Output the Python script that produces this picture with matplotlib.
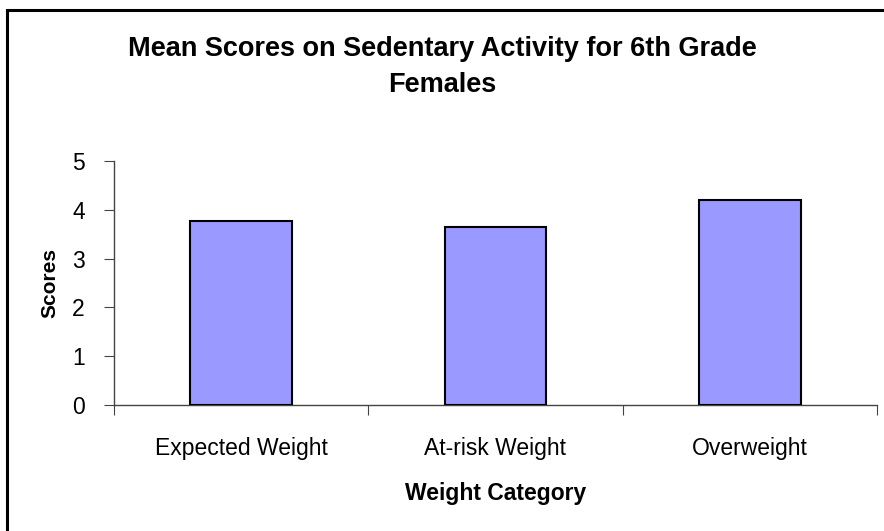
import matplotlib
matplotlib.use("Agg")
import matplotlib.pyplot as plt
from matplotlib.patches import Rectangle

# datos
categories = ["Expected Weight", "At-risk Weight", "Overweight"]
scores = [3.77, 3.65, 4.20]

plt.rcParams['font.family'] = ['Liberation Sans', 'DejaVu Sans']

fig = plt.figure(figsize=(8.84, 5.31), dpi=100)
ax = fig.add_axes([114 / 884, 1 - 405 / 531, 763 / 884, 244 / 531])

x = list(range(len(categories)))
ax.bar(x, scores, width=0.4, color='#9999FF', edgecolor='black', linewidth=1.5, zorder=3)

ax.set_xlim(-0.5, len(categories) - 0.5)
ax.set_ylim(0, 5)
ax.set_yticks([0, 1, 2, 3, 4, 5])

# ticks del eje x en los limites de las categorias
ax.set_xticks([i - 0.5 for i in range(len(categories) + 1)])
ax.set_xticklabels([])
ax.set_xticks(x, minor=True)
ax.set_xticklabels(categories, minor=True)
ax.tick_params(axis='x', which='minor', length=0, pad=23, labelsize=16.5)
ax.tick_params(axis='x', which='major', length=7, direction='out', color='#444444')
ax.tick_params(axis='y', length=7, direction='out', color='#444444', labelsize=16.5, pad=14)

for s in ['top', 'right']:
    ax.spines[s].set_visible(False)
for s in ['left', 'bottom']:
    ax.spines[s].set_color('#444444')
    ax.spines[s].set_linewidth(1.0)

ax.set_xlabel("Weight Category", fontsize=16.5, fontweight='bold', labelpad=16)
ax.set_ylabel("Scores", fontsize=15, fontweight='bold', labelpad=9)

fig.text(0.5, 1 - 67 / 531, "Mean Scores on Sedentary Activity for 6th Grade\nFemales",
         ha='center', va='center', fontsize=19.5, fontweight='bold', linespacing=1.5)

# borde del grafico
fig.patches.append(Rectangle((7 / 884, -0.1), 1.2, 1 - 10 / 531 + 0.1,
                             transform=fig.transFigure, fill=False,
                             edgecolor='black', linewidth=2.2, zorder=10))

fig.savefig("out.png", dpi=100)
